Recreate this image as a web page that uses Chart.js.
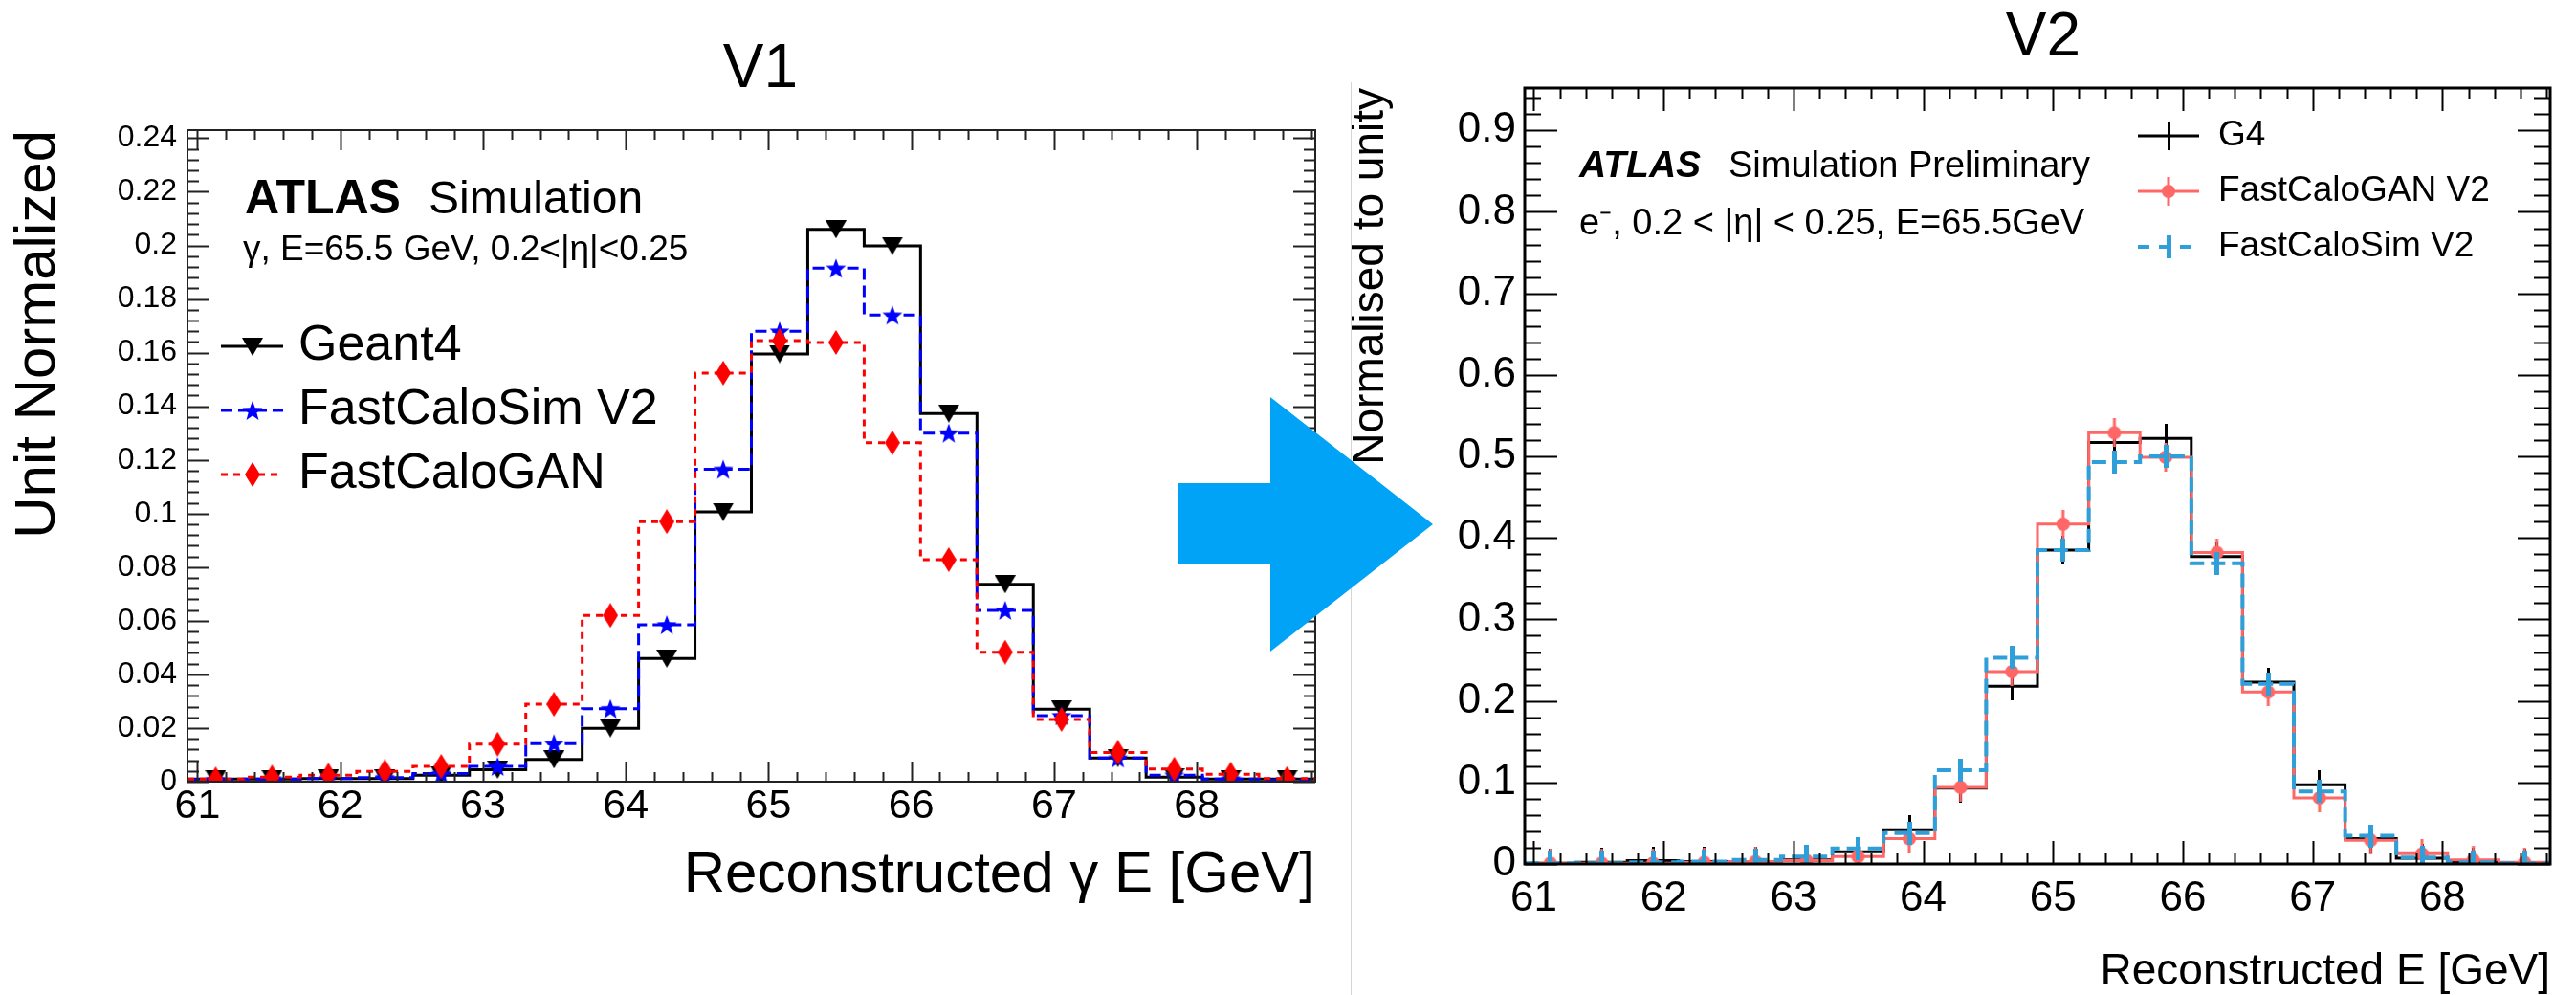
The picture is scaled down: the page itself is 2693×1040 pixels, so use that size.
<!DOCTYPE html>
<html>
<head>
<meta charset="utf-8">
<script src="https://cdn.jsdelivr.net/npm/chart.js@4.4.1/dist/chart.umd.min.js"></script>
<style>
  html, body { margin: 0; padding: 0; background: #fff; }
  #page { position: relative; width: 2693px; height: 1040px; overflow: hidden; }
  #v1 { position: absolute; left: 0; top: 0; }
  #v2 { position: absolute; left: 1413px; top: 0; }
  #divider { position: absolute; left: 1412px; top: 86px; width: 1px; height: 954px; background: #d4d4d4; }
  #arrow { position: absolute; left: 0; top: 0; }
</style>
</head>
<body>
<div id="page">
  <canvas id="v1" width="1412" height="1040"></canvas>
  <div id="divider"></div>
  <canvas id="v2" width="1280" height="1040"></canvas>
  <svg id="arrow" width="2693" height="1040">
    <polygon points="1232,505 1328,505 1328,415 1498,548 1328,681 1328,590 1232,590" fill="#00a3f5"/>
  </svg>
</div>
<script>
// histogram binning (20 bins) and axis ticks
const binLow = 60.93
const binWidth = 0.395
const nBins = 20
const xTicks = [61, 62, 63, 64, 65, 66, 67, 68]
const v1YTicks = [0, 0.02, 0.04, 0.06, 0.08, 0.1, 0.12, 0.14, 0.16, 0.18, 0.2, 0.22, 0.24]
const v2YTicks = [0, 0.1, 0.2, 0.3, 0.4, 0.5, 0.6, 0.7, 0.8, 0.9]

// V1 (photon)
const v1Series = ['Geant4', 'FastCaloSim V2', 'FastCaloGAN']
const v1Geant4 = [0.0010, 0.0010, 0.0012, 0.0012, 0.0024, 0.0045, 0.0083, 0.0199, 0.0459, 0.1006, 0.1595, 0.2060, 0.1998, 0.1373, 0.0736, 0.0270, 0.0088, 0.0017, 0.0010, 0.0010]
const v1FastCaloSim = [0.0008, 0.0010, 0.0012, 0.0015, 0.0030, 0.0057, 0.0142, 0.0272, 0.0585, 0.1165, 0.1680, 0.1915, 0.1740, 0.1300, 0.0639, 0.0246, 0.0088, 0.0024, 0.0010, 0.0005]
const v1FastCaloGAN = [0.0010, 0.0017, 0.0024, 0.0038, 0.0057, 0.0140, 0.0289, 0.0620, 0.0970, 0.1524, 0.1645, 0.1638, 0.1264, 0.0828, 0.0483, 0.0232, 0.0109, 0.0047, 0.0028, 0.0012]

// V2 (electron)
const v2Series = ['G4', 'FastCaloGAN V2', 'FastCaloSim V2']
const v2G4 = [0.001, 0.002, 0.004, 0.003, 0.003, 0.005, 0.015, 0.042, 0.093, 0.218, 0.385, 0.517, 0.522, 0.377, 0.223, 0.097, 0.031, 0.007, 0.002, 0.001]
const v2FastCaloGAN = [0.001, 0.001, 0.001, 0.002, 0.003, 0.004, 0.009, 0.031, 0.094, 0.236, 0.417, 0.529, 0.499, 0.382, 0.211, 0.081, 0.029, 0.0125, 0.005, 0.002]
const v2FastCaloSim = [0.001, 0.001, 0.002, 0.003, 0.005, 0.009, 0.019, 0.038, 0.115, 0.253, 0.385, 0.493, 0.500, 0.369, 0.221, 0.089, 0.0345, 0.008, 0.002, 0.001]

const FONT = "'Liberation Sans', Arial, Helvetica, sans-serif"
const binEdges = Array.from({length: nBins + 1}, (_, i) => +(binLow + binWidth * i).toFixed(3))
const xMin = binEdges[0]
const xMax = binEdges[nBins]

function histLine(values) {
  const pts = values.map((v, i) => ({x: binEdges[i], y: v}))
  pts.push({x: binEdges[values.length], y: values[values.length - 1]})
  return pts
}
function binPoints(values) {
  return values.map((v, i) => ({x: (binEdges[i] + binEdges[i + 1]) / 2, y: v}))
}

function markerCanvas(w, h, draw) {
  const c = document.createElement('canvas')
  c.width = w
  c.height = h
  draw(c.getContext('2d'), w, h)
  return c
}
const triDown = markerCanvas(22, 19, (g, w, h) => {
  g.fillStyle = '#000'
  g.beginPath(); g.moveTo(0, 0); g.lineTo(w, 0); g.lineTo(w / 2, h); g.closePath(); g.fill()
})
const starBlue = markerCanvas(22, 22, (g, w, h) => {
  g.fillStyle = '#0000ff'
  g.beginPath()
  for (let i = 0; i < 10; i++) {
    const r = i % 2 ? 4.6 : 11
    const a = -Math.PI / 2 + i * Math.PI / 5
    g.lineTo(w / 2 + r * Math.cos(a), h / 2 + 1 + r * Math.sin(a))
  }
  g.closePath(); g.fill()
})
const diamondRed = markerCanvas(16, 26, (g, w, h) => {
  g.fillStyle = '#ff0000'
  g.beginPath(); g.moveTo(w / 2, 0); g.lineTo(w, h / 2); g.lineTo(w / 2, h); g.lineTo(0, h / 2); g.closePath(); g.fill()
})
const barBlack = markerCanvas(3, 30, (g, w, h) => { g.fillStyle = '#000'; g.fillRect(0, 0, w, h) })
const dotRed = markerCanvas(16, 30, (g, w, h) => {
  g.fillStyle = '#ff6666'
  g.fillRect(w / 2 - 1.5, 0, 3, h)
  g.beginPath(); g.arc(w / 2, h / 2, 7, 0, Math.PI * 2); g.fill()
})
const barBlue = markerCanvas(5, 24, (g, w, h) => { g.fillStyle = '#2e9fd8'; g.fillRect(0, 0, w, h) })

// inward ROOT-style frame ticks on all four sides
const frameTicks = {
  id: 'frameTicks',
  afterDatasetsDraw(chart, args, o) {
    const {ctx, chartArea: a, scales: {x, y}} = chart
    ctx.save()
    ctx.strokeStyle = o.color
    ctx.lineWidth = o.tickWidth
    ctx.beginPath()
    const isMajor = (v, m) => Math.abs(v / m - Math.round(v / m)) < 1e-6
    for (let k = Math.ceil(x.min / o.xMinor - 1e-9); k * o.xMinor <= x.max + 1e-9; k++) {
      const v = k * o.xMinor
      const len = isMajor(v, o.xMajor) ? o.xLen[0] : o.xLen[1]
      const px = Math.round(x.getPixelForValue(v)) + 0.5
      ctx.moveTo(px, a.bottom); ctx.lineTo(px, a.bottom - len)
      ctx.moveTo(px, a.top); ctx.lineTo(px, a.top + len)
    }
    for (let k = Math.ceil(y.min / o.yMinor - 1e-9); k * o.yMinor <= y.max + 1e-9; k++) {
      const v = k * o.yMinor
      const len = isMajor(v, o.yMajor) ? o.yLen[0] : o.yLen[1]
      const py = Math.round(y.getPixelForValue(v)) + 0.5
      ctx.moveTo(a.left, py); ctx.lineTo(a.left + len, py)
      ctx.moveTo(a.right, py); ctx.lineTo(a.right - len, py)
    }
    ctx.stroke()
    ctx.lineWidth = o.frameWidth
    ctx.strokeRect(a.left, a.top, a.right - a.left, a.bottom - a.top)
    ctx.restore()
  }
}

const hepLegend = {
  id: 'hepLegend',
  afterDraw(chart, args, o) {
    const ctx = chart.ctx
    ctx.save()
    o.items.forEach((it, i) => {
      const y = o.y + i * o.dy
      ctx.strokeStyle = it.color
      ctx.lineWidth = it.width
      ctx.setLineDash(it.dash || [])
      ctx.beginPath(); ctx.moveTo(o.x0, y); ctx.lineTo(o.x1, y); ctx.stroke()
      ctx.setLineDash([])
      const m = it.marker
      ctx.drawImage(m, Math.round((o.x0 + o.x1) / 2 - m.width / 2), Math.round(y - m.height / 2))
      ctx.fillStyle = '#000'
      ctx.font = o.font
      ctx.textBaseline = 'middle'
      ctx.textAlign = 'left'
      ctx.fillText(it.label, o.tx, y)
    })
    ctx.restore()
  }
}

const hepText = {
  id: 'hepText',
  afterDraw(chart, args, o) {
    const ctx = chart.ctx
    ctx.save()
    ctx.fillStyle = '#000'
    o.items.forEach(t => {
      ctx.font = t.font
      ctx.textAlign = t.align || 'left'
      ctx.textBaseline = t.baseline || 'alphabetic'
      ctx.fillText(t.text, t.x, t.y)
    })
    ctx.restore()
  }
}

function buildChart(el, c) {
  return new Chart(el, {
    type: 'scatter',
    data: { datasets: c.datasets },
    options: {
      responsive: false,
      animation: false,
      devicePixelRatio: 1,
      layout: { padding: c.padding },
      plugins: {
        legend: { display: false },
        tooltip: { enabled: false },
        frameTicks: c.frame,
        hepLegend: c.legend,
        hepText: c.text
      },
      scales: {
        x: {
          type: 'linear', min: xMin, max: xMax,
          grid: { display: false, drawTicks: false },
          border: { display: false },
          afterFit: s => { s.height = c.xHeight },
          afterBuildTicks: s => { s.ticks = xTicks.map(v => ({value: v})) },
          ticks: { padding: c.xTickPad, color: '#000', font: { family: FONT, size: c.xTickSize }, maxRotation: 0, minRotation: 0, autoSkip: false, callback: v => String(v) },
          title: { display: true, text: c.xTitle, align: 'end', color: '#000', font: { family: FONT, size: c.xTitleSize, lineHeight: 1 }, padding: { top: 0, bottom: c.xTitlePad } }
        },
        y: {
          type: 'linear', min: 0, max: c.yMax,
          grid: { display: false, drawTicks: false },
          border: { display: false },
          afterFit: s => { s.width = c.yWidth },
          afterBuildTicks: s => { s.ticks = c.yTicks.map(v => ({value: v})) },
          ticks: { padding: c.yTickPad, color: '#000', font: { family: FONT, size: c.yTickSize }, autoSkip: false, callback: v => String(v) },
          title: { display: true, text: c.yTitle, align: 'end', color: '#000', font: { family: FONT, size: c.yTitleSize, lineHeight: c.yTitleLH }, padding: { top: c.yTitlePad, bottom: 0 } }
        }
      }
    },
    plugins: [frameTicks, hepLegend, hepText]
  })
}

function hist(values, color, width, dash, order) {
  return { data: histLine(values), showLine: true, stepped: 'before', borderColor: color, borderWidth: width, borderDash: dash, pointRadius: 0, order: order }
}
function marks(values, img, order) {
  return { data: binPoints(values), showLine: false, pointStyle: img, pointRadius: 8, order: order }
}

const v1Dash = { sim: [12, 6], gan: [7, 6] }
buildChart(document.getElementById('v1'), {
  padding: { top: 136, right: 37, left: 0, bottom: 0 },
  xHeight: 223, yWidth: 196, yMax: 0.243, yTicks: v1YTicks,
  xTickPad: 0, xTickSize: 43, yTickPad: 11, yTickSize: 32,
  xTitle: 'Reconstructed \u03b3 E [GeV]', xTitleSize: 60, xTitlePad: 95,
  yTitle: 'Unit Normalized', yTitleSize: 60, yTitleLH: 1.2, yTitlePad: 4,
  datasets: [
    hist(v1Geant4, '#000000', 3, [], 6), marks(v1Geant4, triDown, 5),
    hist(v1FastCaloSim, '#0000ff', 3, v1Dash.sim, 4), marks(v1FastCaloSim, starBlue, 3),
    hist(v1FastCaloGAN, '#ff0000', 3, v1Dash.gan, 2), marks(v1FastCaloGAN, diamondRed, 1)
  ],
  frame: { color: '#222', tickWidth: 2, frameWidth: 2, xMajor: 1, xMinor: 0.2, yMajor: 0.02, yMinor: 0.004, xLen: [21, 10], yLen: [23, 12] },
  legend: {
    x0: 231, x1: 296, tx: 312, y: 362, dy: 67, font: '52px ' + FONT,
    items: [
      { label: v1Series[0], color: '#000', width: 3, marker: triDown },
      { label: v1Series[1], color: '#0000ff', width: 3, dash: v1Dash.sim, marker: starBlue },
      { label: v1Series[2], color: '#ff0000', width: 3, dash: v1Dash.gan, marker: diamondRed }
    ]
  },
  text: { items: [
    { text: 'V1', x: 795, y: 73, font: '64px ' + FONT, align: 'center', baseline: 'middle' },
    { text: 'ATLAS', x: 256, y: 223, font: 'bold 50px ' + FONT },
    { text: 'Simulation', x: 448, y: 223, font: '48px ' + FONT },
    { text: '\u03b3, E=65.5 GeV, 0.2<|\u03b7|<0.25', x: 254, y: 272, font: '37px ' + FONT }
  ] }
})

const v2Dash = [15, 7]
buildChart(document.getElementById('v2'), {
  padding: { top: 92, right: 27, left: 0, bottom: 0 },
  xHeight: 137, yWidth: 181, yMax: 0.952, yTicks: v2YTicks,
  xTickPad: 10, xTickSize: 44, yTickPad: 9, yTickSize: 44,
  xTitle: 'Reconstructed E [GeV]', xTitleSize: 46, xTitlePad: 1,
  yTitle: 'Normalised to unity', yTitleSize: 46, yTitleLH: 0.9, yTitlePad: 0,
  datasets: [
    hist(v2G4, '#000000', 3, [], 6), marks(v2G4, barBlack, 5),
    hist(v2FastCaloGAN, '#ff6666', 3, [], 4), marks(v2FastCaloGAN, dotRed, 3),
    hist(v2FastCaloSim, '#2e9fd8', 4, v2Dash, 2), marks(v2FastCaloSim, barBlue, 1)
  ],
  frame: { color: '#000', tickWidth: 2, frameWidth: 3, xMajor: 1, xMinor: 0.2, yMajor: 0.1, yMinor: 0.02, xLen: [24, 11], yLen: [34, 17] },
  legend: {
    x0: 822, x1: 886, tx: 906, y: 142, dy: 58, font: '37px ' + FONT,
    items: [
      { label: v2Series[0], color: '#000', width: 3, marker: barBlack },
      { label: v2Series[1], color: '#ff6666', width: 3, marker: dotRed },
      { label: v2Series[2], color: '#2e9fd8', width: 4, dash: [12, 10], marker: barBlue }
    ]
  },
  text: { items: [
    { text: 'V2', x: 723, y: 40, font: '64px ' + FONT, align: 'center', baseline: 'middle' },
    { text: 'ATLAS', x: 238, y: 185, font: 'italic bold 39px ' + FONT },
    { text: 'Simulation Preliminary', x: 394, y: 185, font: '38px ' + FONT },
    { text: 'e\u207b, 0.2 < |\u03b7| < 0.25, E=65.5GeV', x: 238, y: 245, font: '38px ' + FONT }
  ] }
})
</script>
</body>
</html>
